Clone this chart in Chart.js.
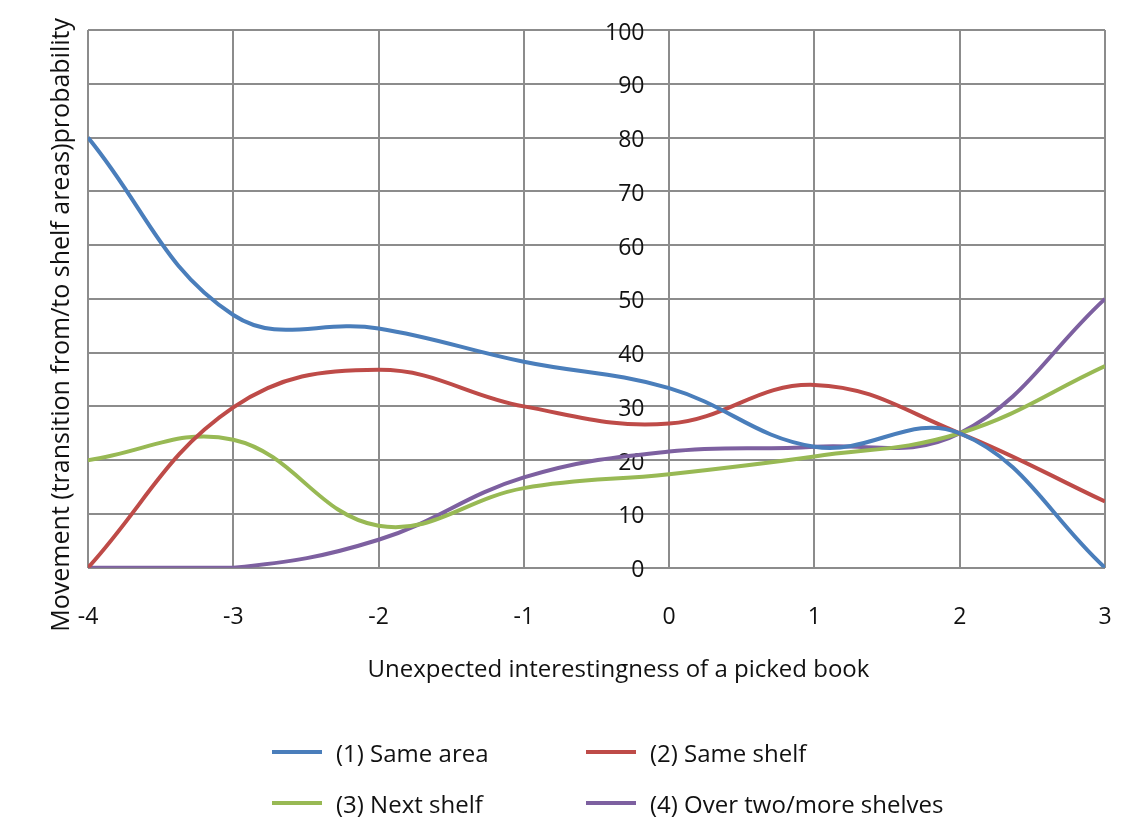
<!DOCTYPE html>
<html>
<head>
<meta charset="utf-8">
<script src="https://cdn.jsdelivr.net/npm/chart.js@4"></script>
<style>
  body { margin: 0; background: #fff; }
  #wrap { position: relative; width: 1135px; height: 820px; }
  #legend { position: absolute; left: 272px; top: 734px; width: 820px;
    display: grid; grid-template-columns: 314px 460px; row-gap: 15px;
    font-family: "Open Sans", sans-serif; font-size: 24px; color: #111; }
  .item { display: flex; align-items: center; height: 36px; }
  .swatch { width: 50px; height: 4px; margin-right: 14px; }
</style>
</head>
<body>
<div id="wrap">
  <canvas id="chart" width="1135" height="820"></canvas>
  <div id="legend"></div>
</div>
<script>
const xValues = [-4, -3, -2, -1, 0, 1, 2, 3];
const sameArea = [80, 47, 44.5, 38.3, 33.4, 22.5, 25, 0];
const sameShelf = [0, 29.8, 36.8, 30, 26.8, 34, 25, 12.3];
const nextShelf = [20, 23.8, 7.8, 14.8, 17.4, 20.7, 25, 37.5];
const overTwo = [0, 0, 5.2, 16.8, 21.6, 22.5, 25, 50];

const seriesNames = ["(1) Same area", "(2) Same shelf", "(3) Next shelf", "(4) Over two/more shelves"];
const seriesColors = ["#4a7ebb", "#be4b48", "#98b954", "#7d60a0"];
const seriesValues = [sameArea, sameShelf, nextShelf, overTwo];
const xTitle = "Unexpected interestingness of a picked book";
const yTitle = "Movement (transition from/to shelf areas)probability";

const font = "'Open Sans', sans-serif";
const gridColor = "#8c8c8c";

const datasets = seriesValues.map((vals, i) => ({
  label: seriesNames[i],
  data: vals.map((v, j) => ({ x: xValues[j], y: v })),
  borderColor: seriesColors[i],
  backgroundColor: seriesColors[i],
  borderWidth: 4,
  pointRadius: 0,
  tension: 0.4,
}));

// axis titles like excel: centred on the whole chart, not just the plot
const titlesPlugin = {
  id: "axisTitles",
  afterDraw(c) {
    const { ctx, chartArea } = c;
    ctx.save();
    ctx.font = "24px " + font;
    ctx.fillStyle = "#111";
    ctx.textAlign = "center";
    ctx.textBaseline = "middle";
    ctx.fillText(xTitle, (chartArea.left + chartArea.right) / 2 + 22, chartArea.bottom + 102);
    ctx.translate(chartArea.left - 26, (chartArea.top + chartArea.bottom) / 2 + 26);
    ctx.rotate(-Math.PI / 2);
    ctx.font = "25px " + font;
    ctx.fillText(yTitle, 0, 0);
    ctx.restore();
  },
};

const chart = new Chart(document.getElementById("chart"), {
  type: "line",
  data: { datasets },
  plugins: [titlesPlugin],
  options: {
    responsive: false,
    animation: false,
    layout: { padding: { left: 88, right: 30, top: 30, bottom: 152 } },
    plugins: { legend: { display: false }, tooltip: { enabled: false } },
    scales: {
      x: {
        type: "linear",
        min: -4, max: 3,
        // tall line height pushes the labels down without a big tick padding
        ticks: { stepSize: 1, padding: 3, color: "#111", font: { family: font, size: 23, lineHeight: 4.1 } },
        grid: { color: gridColor, lineWidth: 2, drawTicks: false },
        border: { display: false },
      },
      y: {
        position: { x: -0.17 },
        min: 0, max: 100,
        ticks: { stepSize: 10, labelOffset: 3, color: "#111", font: { family: font, size: 23 } },
        grid: { color: gridColor, lineWidth: 2, drawTicks: false },
        border: { display: false },
      },
    },
  },
});

const legendEl = document.getElementById("legend");
chart.data.datasets.forEach((ds) => {
  const item = document.createElement("div");
  item.className = "item";
  const sw = document.createElement("span");
  sw.className = "swatch";
  sw.style.background = ds.borderColor;
  const txt = document.createElement("span");
  txt.textContent = ds.label;
  item.appendChild(sw);
  item.appendChild(txt);
  legendEl.appendChild(item);
});
</script>
</body>
</html>
